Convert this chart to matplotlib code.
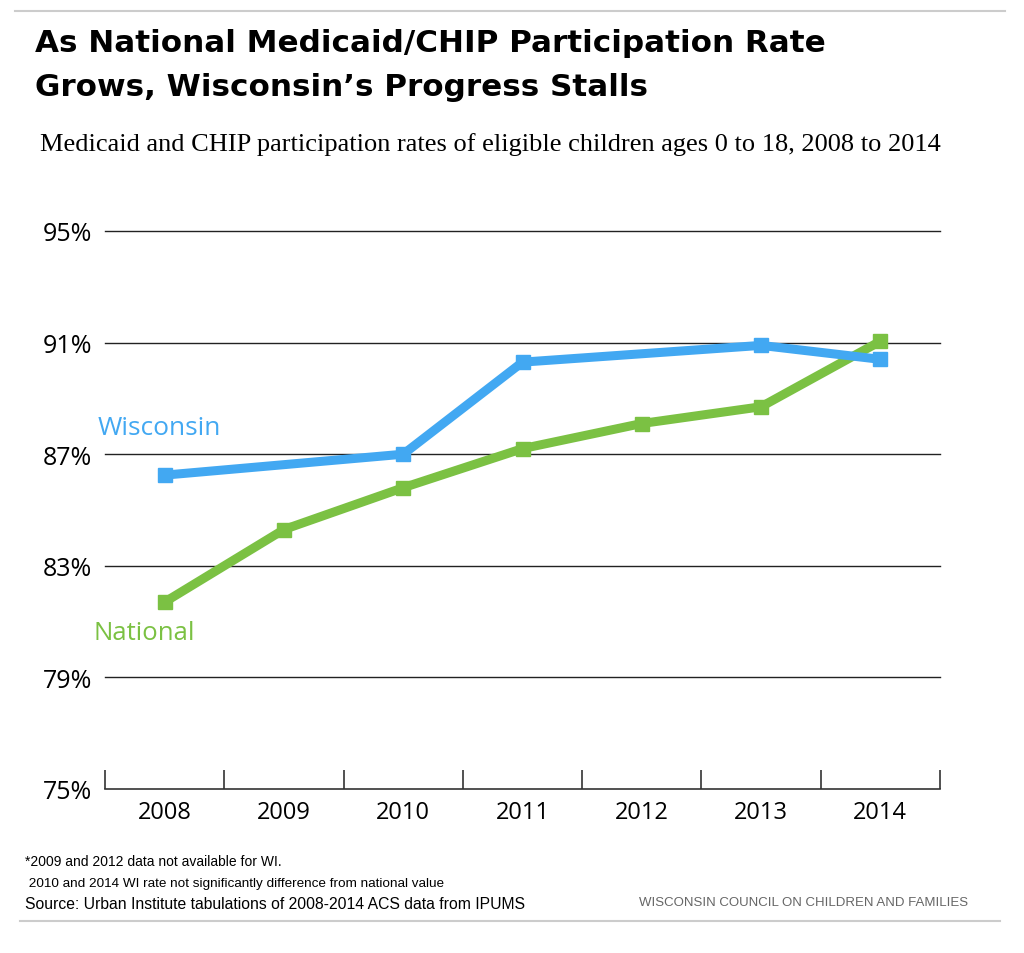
import matplotlib.pyplot as plt
from matplotlib.lines import Line2D

years = ["2008", "2009", "2010", "2011", "2012", "2013", "2014"]
national = [81.7, 84.3, 85.8, 87.2, 88.1, 88.7, 91.05]
wi_idx = [0, 2, 3, 5, 6]
wisconsin = [86.25, 87.0, 90.3, 90.9, 90.4]
grid_vals = [79, 83, 87, 91, 95]
ytick_labels = ["75%", "79%", "83%", "87%", "91%", "95%"]

BLUE = "#42A8F2"
GREEN = "#7BC143"

fig = plt.figure(figsize=(10.24, 9.54), dpi=100)
ax = fig.add_axes([105 / 1024, 1 - 790 / 954, 835 / 1024, 558 / 954])

for g in grid_vals:
    ax.axhline(g, color="#222222", lw=1.0, zorder=1, clip_on=False)

ax.plot(range(len(years)), national, color=GREEN, lw=6.5, marker="s",
        markersize=10, solid_joinstyle="miter", zorder=3)
ax.plot(wi_idx, wisconsin, color=BLUE, lw=6.5, marker="s",
        markersize=10, solid_joinstyle="miter", zorder=3)

ax.set_xlim(-0.5, len(years) - 0.5)
ax.set_ylim(75, 95)
for s in ["top", "right", "left"]:
    ax.spines[s].set_visible(False)
ax.spines["bottom"].set_color("#333333")
ax.spines["bottom"].set_linewidth(1.2)

ax.set_xticks([i + 0.5 for i in range(-1, len(years))], minor=False)
ax.set_xticklabels([])
ax.tick_params(axis="x", direction="in", length=14, color="#333333", width=1.2)
ax.set_xticks(range(len(years)), minor=True)
ax.set_xticklabels(years, minor=True, fontsize=17, family="Open Sans")
ax.tick_params(axis="x", which="minor", length=0, pad=8)

ax.set_yticks([75] + grid_vals)
ax.set_yticklabels(ytick_labels, fontsize=18, family="Open Sans")
ax.tick_params(axis="y", length=0, pad=9)

ax.text(-0.56, 87.95, "Wisconsin", color=BLUE, fontsize=19, family="Open Sans",
        va="center", ha="left")
ax.text(-0.6, 80.6, "National", color=GREEN, fontsize=18.5,
        family="Open Sans", va="center", ha="left")

fig.text(35 / 1024, 1 - 44 / 954, "As National Medicaid/CHIP Participation Rate",
         fontsize=22.3, fontweight="bold", family="DejaVu Sans", va="center")
fig.text(35 / 1024, 1 - 88 / 954, "Grows, Wisconsin\u2019s Progress Stalls",
         fontsize=22.3, fontweight="bold", family="DejaVu Sans", va="center")
fig.text(40 / 1024, 1 - 145 / 954,
         "Medicaid and CHIP participation rates of eligible children ages 0 to 18, 2008 to 2014",
         fontsize=19, family="Liberation Serif", va="center")

fig.text(25 / 1024, 1 - 862 / 954, "*2009 and 2012 data not available for WI.",
         fontsize=10, family="Liberation Sans", va="center")
fig.text(25 / 1024, 1 - 884 / 954,
         " 2010 and 2014 WI rate not significantly difference from national value",
         fontsize=9.7, family="Liberation Sans", va="center")
fig.text(25 / 1024, 1 - 905 / 954,
         "Source: Urban Institute tabulations of 2008-2014 ACS data from IPUMS",
         fontsize=11.3, family="Liberation Sans", va="center")
fig.text(968 / 1024, 1 - 903 / 954, "WISCONSIN COUNCIL ON CHILDREN AND FAMILIES",
         fontsize=9.5, color="#666666", ha="right",
         family="Liberation Sans", va="center")

fig.add_artist(Line2D([15 / 1024, 1005 / 1024], [1 - 12 / 954] * 2,
                      color="#cccccc", lw=1.5))
fig.add_artist(Line2D([20 / 1024, 1000 / 1024], [1 - 922 / 954] * 2,
                      color="#cccccc", lw=1.5))

fig.savefig("out.png", dpi=100)
